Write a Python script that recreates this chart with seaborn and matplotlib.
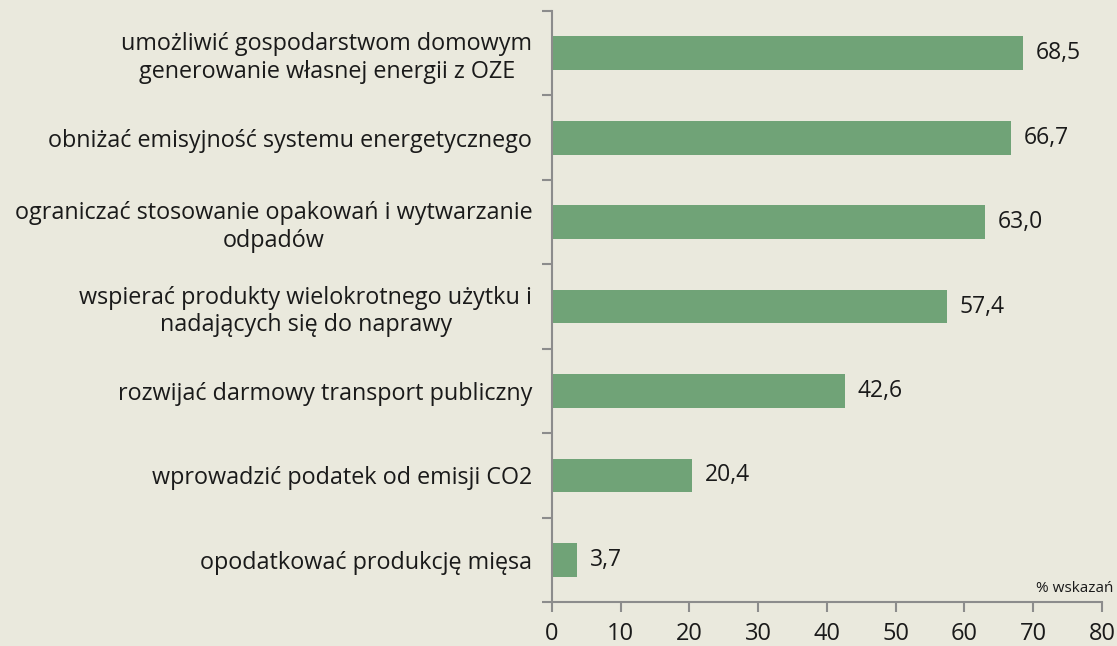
import matplotlib
matplotlib.use("Agg")
import matplotlib.pyplot as plt
import seaborn as sns
import pandas as pd

categories = [
    "umożliwić gospodarstwom domowym\ngenerowanie własnej energii z OZE",
    "obniżać emisyjność systemu energetycznego",
    "ograniczać stosowanie opakowań i wytwarzanie\nodpadów",
    "wspierać produkty wielokrotnego użytku i\nnadających się do naprawy",
    "rozwijać darmowy transport publiczny",
    "wprowadzić podatek od emisji CO2",
    "opodatkować produkcję mięsa",
]
values = [68.5, 66.7, 63.0, 57.4, 42.6, 20.4, 3.7]
x_ticks = [0, 10, 20, 30, 40, 50, 60, 70, 80]

df = pd.DataFrame({"kategoria": categories, "wartosc": values})

bg = "#EAE9DD"
bar_color = "#70A377"
axis_color = "#8C8C8C"

sns.set_theme(style="white")
plt.rcParams['font.family'] = ['Open Sans', 'DejaVu Sans']

fig = plt.figure(figsize=(11.17, 6.46), dpi=100, facecolor=bg)
ax = fig.add_axes([0.494, 0.068, 0.4926, 0.915])
ax.set_facecolor(bg)

sns.barplot(data=df, y="kategoria", x="wartosc", orient="h", color=bar_color,
            saturation=1, width=0.4, linewidth=0, ax=ax)

# value labels
for i, v in enumerate(values):
    ax.text(v + 1.9, i, f"{v:.1f}".replace(".", ","), va="center", ha="left",
            fontsize=16.5, color="#1a1a1a")

ax.set_xlim(0, 80)
ax.set_ylim(len(categories) - 0.5, -0.5)
ax.set_xticks(x_ticks)
ax.set_xticklabels([str(t) for t in x_ticks], fontsize=17, color="#1a1a1a")
ax.set_xlabel("")
ax.set_ylabel("")

# y axis: labels at centre, tick marks at boundaries
ax.tick_params(axis="y", which="major", left=False, length=0, pad=14,
               labelsize=16.8, labelcolor="#1a1a1a")
for lab in ax.get_yticklabels():
    lab.set_multialignment("center")
    lab.set_linespacing(1.2)
ax.set_yticks([i - 0.5 for i in range(len(categories) + 1)], minor=True)
ax.tick_params(axis="y", which="minor", left=True, length=7, width=1.5,
               color=axis_color, direction="out")
ax.tick_params(axis="x", which="major", bottom=True, length=7, width=1.5,
               color=axis_color, direction="out", pad=7)

for s in ["top", "right"]:
    ax.spines[s].set_visible(False)
for s in ["left", "bottom"]:
    ax.spines[s].set_color(axis_color)
    ax.spines[s].set_linewidth(1.5)

fig.text(0.997, 0.078, "% wskazań", ha="right", va="bottom", fontsize=11, color="#1a1a1a")

fig.savefig("out.png", dpi=100, facecolor=bg)
